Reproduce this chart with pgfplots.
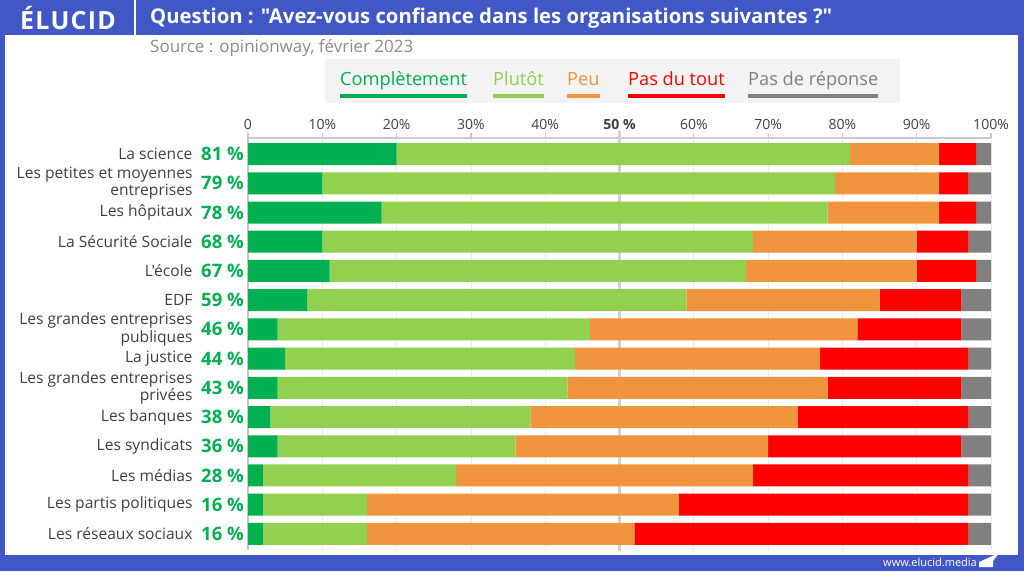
\documentclass[border=0pt]{standalone}
\usepackage{fontspec}
\setmainfont{Open Sans}[Ligatures=TeXOff]
\usepackage{pgfplots}
\usepackage{pgfplotstable}
\pgfplotsset{compat=1.18}

\definecolor{elublue}{HTML}{4157C5}
\definecolor{cComp}{HTML}{00B050}
\definecolor{cPlut}{HTML}{92D050}
\definecolor{cPeu}{HTML}{F0943E}
\definecolor{cPdt}{HTML}{FF0000}
\definecolor{cNR}{HTML}{808080}
\definecolor{labgray}{HTML}{404040}
\definecolor{srcgray}{HTML}{8C8C8C}
\definecolor{legbg}{HTML}{F3F3F3}
\definecolor{axgray}{HTML}{C8C8C8}

% y: 13 = top row (La science) ... 0 = bottom row
\pgfplotstableread{
y  comp plut peu pdt nr total
13 20   61   12  5   2  81
12 10   69   14  4   3  79
11 18   60   15  5   2  78
10 10   58   22  7   3  68
9  11   56   23  8   2  67
8  8    51   26  11  4  59
7  4    42   36  14  4  46
6  5    39   33  20  3  44
5  4    39   35  18  4  43
4  3    35   36  23  3  38
3  4    32   34  26  4  36
2  2    26   40  29  3  28
1  2    14   42  39  3  16
0  2    14   36  45  3  16
}\datatable

\newcommand\fs[1]{\fontsize{#1}{\dimexpr#1pt+2pt\relax}\selectfont}

\begin{document}
\begin{tikzpicture}[x=1pt,y=1pt]
\path[use as bounding box] (0,0) rectangle (1024,571);
\fill[elublue] (0,0) rectangle (1024,571);
\fill[white] (5,16) rectangle (1018,536);

% header
\node[anchor=west, text=white, font=\fs{25}\bfseries\addfontfeatures{LetterSpace=5}, inner sep=0] at (20,553) {ÉLUCID};
\draw[white, line width=1.2pt] (135,536) -- (135,571);
\node[anchor=west, text=white, font=\fs{20.3}\bfseries, inner sep=0] at (150,553)
  {Question : "Avez-vous confiance dans les organisations suivantes ?"};
\node[anchor=west, text=srcgray, font=\fs{17}, inner sep=0] at (150,523)
  {Source : opinionway, février 2023};

% legend
\fill[legbg] (325,468) rectangle (900,512);
\foreach \x/\c/\t in {340/cComp/Complètement, 493/cPlut/Plutôt, 567/cPeu/Peu, 628/cPdt/Pas du tout, 748/cNR/Pas de réponse}{
  \node[anchor=base west, inner sep=0, text=\c, font=\fs{18.2}] (n) at (\x,485) {\t};
  \draw[\c, line width=4pt] (n.west |- 0,475) -- (n.east |- 0,475);
}

% footer
\node[anchor=east, text=white, font=\fs{11}, inner sep=0] at (977,9) {www.elucid.media};
\fill[white] (979,4) -- (979,9) -- (999,18) -- (993,10) -- (993,4) -- cycle;

\begin{axis}[
  at={(248pt,21pt)}, anchor=south west,
  scale only axis, width=743pt, height=412pt,
  xbar stacked, bar width=22pt,
  xmin=0, xmax=100, ymin=-0.55, ymax=13.55,
  axis x line=top, axis y line=left,
  x axis line style={draw=axgray, line width=1.5pt, -},
  y axis line style={draw=axgray, line width=2.5pt, -},
  xtick={0,10,...,100},
  xticklabels={0,10\%,20\%,30\%,40\%,{\textbf{50 \%}},60\%,70\%,80\%,90\%,100\%},
  xticklabel style={font=\fs{14}, text=labgray},
  x tick style={draw=axgray, line width=1.2pt},
  tick align=outside, major tick length=5pt,
  xmajorgrids, grid style={draw=black!7, line width=0.8pt},
  ytick={0,...,13},
  y tick style={draw=none},
  yticklabels={Les réseaux sociaux,Les partis politiques,Les médias,Les syndicats,Les banques,
    {Les grandes entreprises\\privées},La justice,{Les grandes entreprises\\publiques},EDF,
    L'école,La Sécurité Sociale,Les hôpitaux,{Les petites et moyennes\\entreprises},La science},
  yticklabel style={font=\fs{15.6}, text=labgray, align=right, xshift=-47pt},
  clip=false,
]
\addplot[fill=cComp, draw=none] table[x=comp, y=y]{\datatable};
\addplot[fill=cPlut, draw=none] table[x=plut, y=y]{\datatable};
\addplot[fill=cPeu, draw=none] table[x=peu, y=y]{\datatable};
\addplot[fill=cPdt, draw=none] table[x=pdt, y=y]{\datatable};
\addplot[fill=cNR, draw=none] table[x=nr, y=y]{\datatable};
\draw[draw=axgray!80, line width=2.5pt] (axis cs:50,-0.6) -- (axis cs:50,13.8);
\end{axis}

% totals next to the categories
\begin{axis}[
  at={(248pt,21pt)}, anchor=south west,
  scale only axis, width=743pt, height=412pt,
  xmin=0, xmax=100, ymin=-0.55, ymax=13.55,
  hide axis, clip=false,
]
\addplot[draw=none, nodes near coords={\pgfplotspointmeta~\%},
  point meta=explicit symbolic,
  every node near coord/.style={anchor=east, inner sep=0, xshift=-4pt,
    font=\fs{18.5}\bfseries, text=cComp}]
  table[x expr=0, y=y, meta=total]{\datatable};
\end{axis}
\end{tikzpicture}
\end{document}
